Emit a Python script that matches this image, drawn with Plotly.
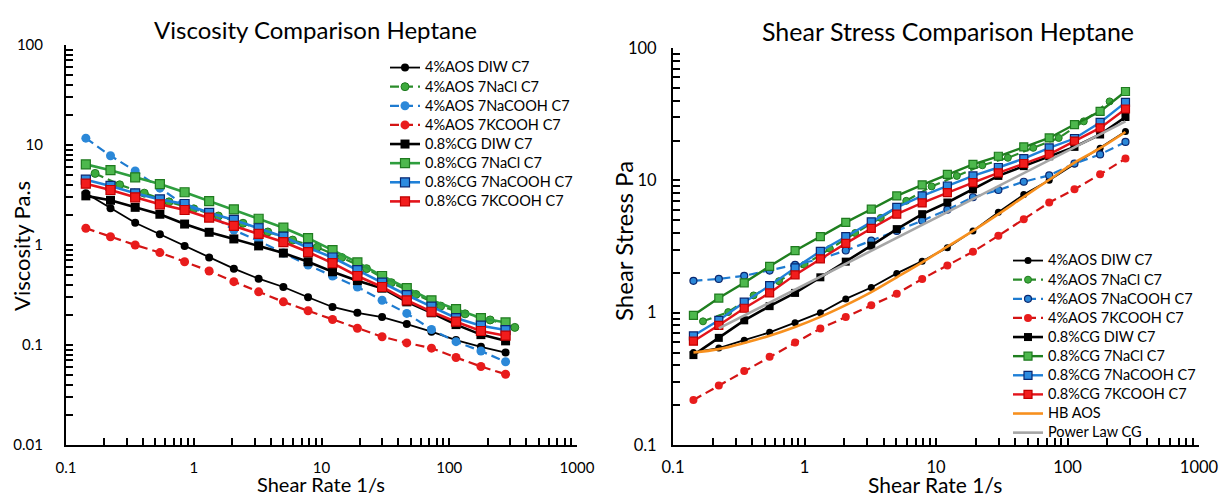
import plotly.graph_objects as go

W, H = 1221, 496
FONT = "Lato"

# ---------------- data ----------------
shear_rate = [0.143, 0.223, 0.348, 0.543, 0.848, 1.32, 2.06, 3.22, 5.03, 7.85,
              12.2, 19.1, 29.8, 46.5, 72.6, 113, 177, 276]
shear_rate_aos_nacl = [0.169, 0.263, 0.41, 0.64, 1.0, 1.56, 2.43, 3.8, 5.94, 9.26,
                       14.4, 22.5, 35.2, 54.9, 85.7, 133, 209, 326]

visc_aos_diw = [3.3, 2.33, 1.67, 1.28, 0.98, 0.75, 0.58, 0.46, 0.38, 0.30,
                0.24, 0.21, 0.19, 0.162, 0.136, 0.112, 0.096, 0.084]
visc_aos_nacl = [5.2, 4.0, 3.3, 2.7, 2.3, 1.95, 1.65, 1.35, 1.12, 0.95,
                 0.75, 0.58, 0.42, 0.32, 0.245, 0.205, 0.178, 0.15]
visc_aos_nacooh = [11.7, 7.8, 5.5, 3.7, 2.5, 2.05, 1.41, 1.1, 0.83, 0.63,
                   0.49, 0.38, 0.28, 0.207, 0.143, 0.108, 0.087, 0.068]
visc_aos_kcooh = [1.47, 1.21, 1.0, 0.84, 0.68, 0.55, 0.43, 0.34, 0.27, 0.22,
                  0.18, 0.147, 0.121, 0.105, 0.093, 0.075, 0.061, 0.051]
visc_cg_diw = [3.1, 2.8, 2.38, 2.03, 1.62, 1.34, 1.15, 0.98, 0.83, 0.68,
               0.54, 0.44, 0.37, 0.27, 0.21, 0.16, 0.127, 0.11]
visc_cg_nacl = [6.4, 5.6, 4.75, 4.07, 3.37, 2.75, 2.27, 1.83, 1.49, 1.17,
                0.89, 0.67, 0.49, 0.37, 0.28, 0.228, 0.186, 0.168]
visc_cg_nacooh = [4.5, 3.9, 3.29, 2.86, 2.57, 2.1, 1.78, 1.47, 1.21, 0.94,
                  0.75, 0.56, 0.42, 0.316, 0.242, 0.186, 0.156, 0.141]
visc_cg_kcooh = [4.1, 3.55, 3.0, 2.55, 2.24, 1.88, 1.55, 1.29, 1.07, 0.85,
                 0.66, 0.49, 0.38, 0.28, 0.215, 0.171, 0.138, 0.124]

stress_aos_diw = [0.50, 0.54, 0.62, 0.71, 0.84, 1.0, 1.27, 1.55, 1.98, 2.45,
                  3.1, 4.15, 5.75, 7.8, 10.0, 13.3, 17.5, 23.4]
stress_aos_nacl = [0.86, 1.01, 1.35, 1.73, 2.3, 3.04, 4.0, 5.2, 7.0, 9.0,
                   10.8, 13.0, 14.8, 17.6, 20.9, 27.9, 39.5]
stress_aos_nacooh = [1.74, 1.8, 1.9, 2.08, 2.3, 2.55, 2.95, 3.5, 4.15, 4.95,
                     6.0, 7.45, 8.45, 9.76, 10.9, 13.4, 15.7, 19.5]
stress_aos_kcooh = [0.219, 0.281, 0.362, 0.465, 0.595, 0.758, 0.927, 1.14, 1.39, 1.80,
                    2.27, 2.89, 3.81, 5.09, 6.8, 8.55, 11.1, 14.6]
stress_cg_diw = [0.478, 0.645, 0.875, 1.12, 1.41, 1.85, 2.43, 3.21, 4.28, 5.55,
                 6.8, 8.55, 10.8, 12.8, 15.2, 17.9, 22.2, 30.1]
stress_cg_nacl = [0.955, 1.29, 1.68, 2.24, 2.94, 3.75, 4.81, 6.05, 7.62, 9.25,
                  11.1, 13.2, 15.2, 17.9, 20.9, 26.4, 33.2, 46.9]
stress_cg_nacooh = [0.668, 0.875, 1.2, 1.6, 2.18, 2.91, 3.75, 4.86, 6.24, 7.62,
                    9.06, 10.8, 12.5, 14.6, 17.6, 20.7, 27.4, 38.8]
stress_cg_kcooh = [0.609, 0.803, 1.08, 1.41, 1.93, 2.55, 3.34, 4.33, 5.55, 6.75,
                   8.08, 9.6, 11.4, 13.4, 15.7, 19.8, 24.9, 34.6]
stress_hb_aos = [0.50, 0.53, 0.59, 0.67, 0.78, 0.93, 1.14, 1.43, 1.85, 2.4,
                 3.15, 4.15, 5.55, 7.5, 10.1, 13.6, 17.5, 23.2]
power_law_rate = [0.223, 276]
stress_power_law_cg = [0.76, 27.9]

names = ["4%AOS DIW C7", "4%AOS 7NaCl C7", "4%AOS 7NaCOOH C7", "4%AOS 7KCOOH C7",
         "0.8%CG DIW C7", "0.8%CG 7NaCl C7", "0.8%CG 7NaCOOH C7", "0.8%CG 7KCOOH C7",
         "HB AOS", "Power Law CG"]

# decade tick labels
decade_values = [0.01, 0.1, 1, 10, 100, 1000]
decade_labels = ["0.01", "0.1", "1", "10", "100", "1000"]
minor_mantissas = [2, 3, 4, 5, 6, 7, 8, 9]


def legend_label(s):
    # larger glyphs than the legend's row-height font, to match the reference rows
    return '<span style="font-size:14.5px">' + s + '</span>'


# ---------------- styles ----------------
DASH = "9px,5px"
styles_left = [
    dict(line=dict(color="#000000", width=1.8), marker=dict(symbol="circle", size=8, color="#000000")),
    dict(line=dict(color="#2A8C2A", width=2.2, dash=DASH), marker=dict(symbol="circle", size=8, color="#3DAA3D", line=dict(color="#1F7A1F", width=1))),
    dict(line=dict(color="#1E7BD0", width=2.2, dash=DASH), marker=dict(symbol="circle", size=9, color="#2B88D8")),
    dict(line=dict(color="#D41414", width=2.2, dash=DASH), marker=dict(symbol="circle", size=9, color="#E81C1C")),
    dict(line=dict(color="#000000", width=2.6), marker=dict(symbol="square", size=9, color="#000000")),
    dict(line=dict(color="#2E9E3E", width=2.6), marker=dict(symbol="square", size=9, color="#4DB84D", line=dict(color="#1F7A1F", width=1.2))),
    dict(line=dict(color="#1F80D8", width=2.6), marker=dict(symbol="square", size=9, color="#2D8BE0", line=dict(color="#0A2770", width=1.2))),
    dict(line=dict(color="#E3141B", width=2.6), marker=dict(symbol="square", size=9, color="#F21C1C", line=dict(color="#C00000", width=1.2))),
]
styles_right = [
    dict(line=dict(color="#000000", width=1.8), marker=dict(symbol="circle", size=7, color="#000000")),
    dict(line=dict(color="#2A8C2A", width=2.2, dash=DASH), marker=dict(symbol="circle", size=7, color="#3DAA3D", line=dict(color="#1F7A1F", width=1))),
    dict(line=dict(color="#1E7BD0", width=2.2, dash=DASH), marker=dict(symbol="circle", size=7, color="#2B88D8", line=dict(color="#0A2770", width=1.2))),
    dict(line=dict(color="#D41414", width=2.2, dash=DASH), marker=dict(symbol="circle", size=8, color="#E81C1C")),
    dict(line=dict(color="#000000", width=2.6), marker=dict(symbol="square", size=8, color="#000000")),
    dict(line=dict(color="#1F7F1F", width=2.4), marker=dict(symbol="square", size=8, color="#4DB84D", line=dict(color="#1F7A1F", width=1.2))),
    dict(line=dict(color="#1F80D8", width=2.4), marker=dict(symbol="square", size=8, color="#2D8BE0", line=dict(color="#0A2770", width=1.2))),
    dict(line=dict(color="#E3141B", width=2.4), marker=dict(symbol="square", size=8, color="#F21C1C", line=dict(color="#C00000", width=1.2))),
]

fig = go.Figure()

visc_x = [shear_rate, shear_rate_aos_nacl, shear_rate, shear_rate,
          shear_rate, shear_rate, shear_rate, shear_rate]
visc_y = [visc_aos_diw, visc_aos_nacl, visc_aos_nacooh, visc_aos_kcooh,
          visc_cg_diw, visc_cg_nacl, visc_cg_nacooh, visc_cg_kcooh]
for i in range(8):
    fig.add_trace(go.Scatter(x=visc_x[i], y=visc_y[i], name=legend_label(names[i]),
                             mode="lines+markers", hovertext=names[i],
                             xaxis="x", yaxis="y", legend="legend", **styles_left[i]))

stress_x = [shear_rate, shear_rate_aos_nacl[:len(stress_aos_nacl)], shear_rate, shear_rate,
            shear_rate, shear_rate, shear_rate, shear_rate]
stress_y = [stress_aos_diw, stress_aos_nacl, stress_aos_nacooh, stress_aos_kcooh,
            stress_cg_diw, stress_cg_nacl, stress_cg_nacooh, stress_cg_kcooh]
for i in range(8):
    fig.add_trace(go.Scatter(x=stress_x[i], y=stress_y[i], name=legend_label(names[i]),
                             mode="lines+markers", hovertext=names[i],
                             xaxis="x2", yaxis="y2", legend="legend2", **styles_right[i]))
fig.add_trace(go.Scatter(x=shear_rate, y=stress_hb_aos, name=legend_label(names[8]), mode="lines",
                         line=dict(color="#F7901E", width=2.6, shape="spline"),
                         xaxis="x2", yaxis="y2", legend="legend2"))
fig.add_trace(go.Scatter(x=power_law_rate, y=stress_power_law_cg, name=legend_label(names[9]), mode="lines",
                         line=dict(color="#A6A6A6", width=2.6),
                         xaxis="x2", yaxis="y2", legend="legend2"))


def px_x(p):
    return p / W


def px_y(p):
    return 1 - p / H


# every decade carries a label, digits 2..9 are unlabelled tick marks
tick_vals, tick_text = [], []
for v, lab in zip(decade_values, decade_labels):
    tick_vals.append(v)
    tick_text.append(lab)
    for m in minor_mantissas:
        tick_vals.append(v * m)
        tick_text.append("")


def axis(fs):
    return dict(
        type="log", showline=True, linecolor="black", linewidth=2,
        ticks="inside", ticklen=7, tickwidth=2, tickcolor="#000000",
        showgrid=False, zeroline=False,
        tickmode="array", tickvals=tick_vals, ticktext=tick_text,
        tickfont=dict(family=FONT, size=fs, color="black"),
        automargin=False,
    )


LEG_FONT = dict(family=FONT, size=12.4, color="black")

fig.update_layout(
    width=W, height=H,
    margin=dict(l=0, r=0, t=0, b=0),
    paper_bgcolor="white", plot_bgcolor="white",
    font=dict(family=FONT, color="black"),
    xaxis=dict(axis(15), domain=[px_x(66), px_x(577)], range=[-1, 3], anchor="y", ticklabelstandoff=8),
    yaxis=dict(axis(15), domain=[px_y(445), px_y(45)], range=[-2, 2], anchor="x", ticklabelstandoff=18),
    xaxis2=dict(axis(16.5), domain=[px_x(673), px_x(1199)], range=[-1, 3], anchor="y2", ticklabelstandoff=6),
    yaxis2=dict(axis(16.5), domain=[px_y(445), px_y(48)], range=[-1, 2], anchor="x2", ticklabelstandoff=11),
    legend=dict(x=px_x(385), y=px_y(53), xanchor="left", yanchor="top",
                font=LEG_FONT, bgcolor="rgba(0,0,0,0)", tracegroupgap=0),
    legend2=dict(x=px_x(1008), y=px_y(246), xanchor="left", yanchor="top",
                 font=LEG_FONT, bgcolor="rgba(0,0,0,0)", tracegroupgap=0),
    annotations=[
        dict(text="Viscosity Comparison Heptane", x=px_x(316), y=px_y(29), xref="paper", yref="paper",
             xanchor="center", yanchor="middle", showarrow=False, font=dict(family=FONT, size=24)),
        dict(text="Shear Stress Comparison Heptane", x=px_x(948), y=px_y(31), xref="paper", yref="paper",
             xanchor="center", yanchor="middle", showarrow=False, font=dict(family=FONT, size=25)),
        dict(text="Shear Rate 1/s", x=px_x(321), y=px_y(484), xref="paper", yref="paper",
             xanchor="center", yanchor="middle", showarrow=False, font=dict(family=FONT, size=20)),
        dict(text="Shear Rate 1/s", x=px_x(935), y=px_y(484), xref="paper", yref="paper",
             xanchor="center", yanchor="middle", showarrow=False, font=dict(family=FONT, size=21)),
        dict(text="Viscosity Pa.s", x=px_x(21), y=px_y(246), xref="paper", yref="paper", textangle=-90,
             xanchor="center", yanchor="middle", showarrow=False, font=dict(family=FONT, size=22)),
        dict(text="Shear Stress Pa", x=px_x(624), y=px_y(241), xref="paper", yref="paper", textangle=-90,
             xanchor="center", yanchor="middle", showarrow=False, font=dict(family=FONT, size=24)),
    ],
)

fig.write_html("out.html")
